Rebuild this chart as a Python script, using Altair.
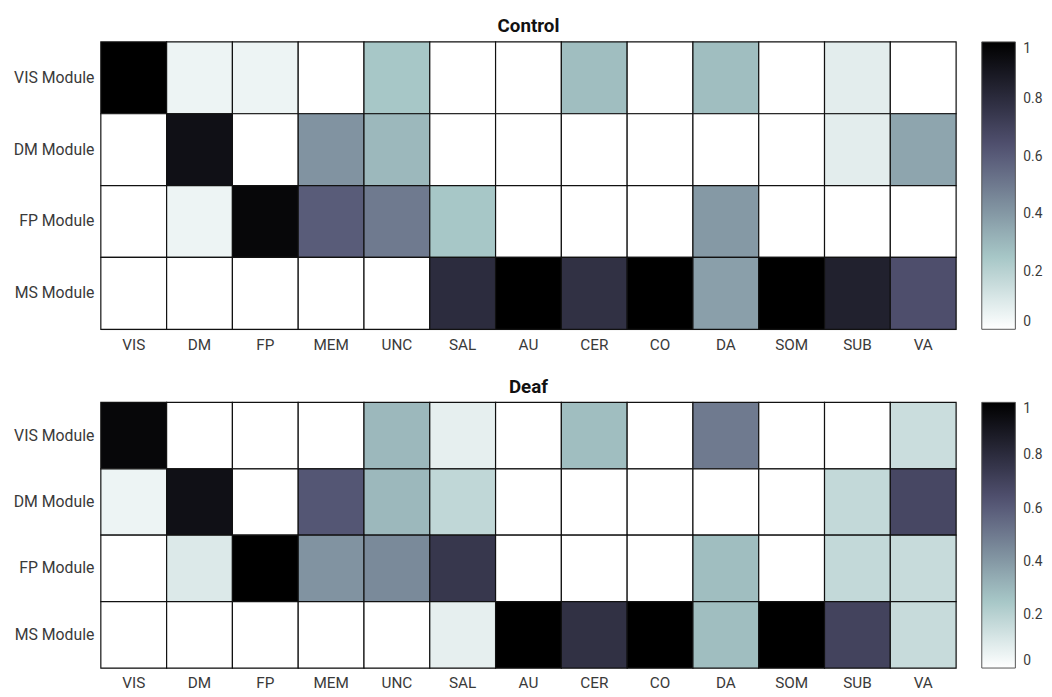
import altair as alt
import pandas as pd

modules = ["VIS Module", "DM Module", "FP Module", "MS Module"]
networks = ["VIS", "DM", "FP", "MEM", "UNC", "SAL", "AU", "CER", "CO", "DA", "SOM", "SUB", "VA"]

control_vis = [1.00, 0.05, 0.05, 0.00, 0.25, 0.00, 0.00, 0.28, 0.00, 0.28, 0.00, 0.08, 0.00]
control_dm = [0.00, 0.93, 0.00, 0.42, 0.30, 0.00, 0.00, 0.00, 0.00, 0.00, 0.00, 0.08, 0.36]
control_fp = [0.00, 0.05, 0.97, 0.60, 0.50, 0.25, 0.00, 0.00, 0.00, 0.40, 0.00, 0.00, 0.00]
control_ms = [0.00, 0.00, 0.00, 0.00, 0.00, 0.80, 1.00, 0.78, 1.00, 0.38, 1.00, 0.85, 0.65]

deaf_vis = [0.97, 0.00, 0.00, 0.00, 0.30, 0.07, 0.00, 0.28, 0.00, 0.50, 0.00, 0.00, 0.15]
deaf_dm = [0.05, 0.93, 0.00, 0.62, 0.30, 0.18, 0.00, 0.00, 0.00, 0.00, 0.00, 0.17, 0.68]
deaf_fp = [0.00, 0.10, 1.00, 0.42, 0.45, 0.75, 0.00, 0.00, 0.00, 0.28, 0.00, 0.17, 0.16]
deaf_ms = [0.00, 0.00, 0.00, 0.00, 0.00, 0.07, 1.00, 0.78, 1.00, 0.28, 1.00, 0.70, 0.16]

legend_ticks = [0, 0.2, 0.4, 0.6, 0.8, 1]


def long_frame(rows):
    recs = []
    for m, vals in zip(modules, rows):
        for n, v in zip(networks, vals):
            recs.append({"module": m, "network": n, "value": v})
    return pd.DataFrame(recs)


control_df = long_frame([control_vis, control_dm, control_fp, control_ms])
deaf_df = long_frame([deaf_vis, deaf_dm, deaf_fp, deaf_ms])

bone_r = alt.Scale(
    domain=[0, 0.254, 0.635, 1],
    range=["#ffffff", "#a6c6c6", "#515171", "#000000"],
    interpolate="rgb",
)

FONT = "Roboto"


def panel(df, title, h):
    return (
        alt.Chart(df, title=alt.TitleParams(title, fontSize=19, fontWeight="bold", font=FONT,
                                            color="#111111", offset=5))
        .mark_rect(stroke="#111111", strokeWidth=1.2)
        .encode(
            x=alt.X("network:N", sort=networks,
                    axis=alt.Axis(title=None, labelAngle=0, ticks=False, domain=False,
                                  labelPadding=8, labelFontSize=15.5, labelFont=FONT,
                                  labelColor="#3a3a3a")),
            y=alt.Y("module:N", sort=modules,
                    axis=alt.Axis(title=None, ticks=False, domain=False, labelPadding=7,
                                  labelFontSize=16, labelFont=FONT, labelColor="#3a3a3a")),
            color=alt.Color("value:Q", scale=bone_r,
                            legend=alt.Legend(title=None, values=legend_ticks, format="~g",
                                              gradientLength=h, gradientThickness=34,
                                              gradientStrokeColor="#555555",
                                              gradientStrokeWidth=1,
                                              labelFontSize=14, labelFont=FONT,
                                              labelColor="#3a3a3a", offset=26,
                                              labelOffset=8)),
        )
        .properties(width=866, height=h)
    )


chart = (
    alt.vconcat(panel(control_df, "Control", 291), panel(deaf_df, "Deaf", 269), spacing=24,
                padding={"left": 4, "top": 4, "right": 0, "bottom": 0})
    .resolve_scale(color="independent")
    .configure_view(stroke="#111111", strokeWidth=1.2)
    .configure(background="white")
)

chart.save("out.html", embed_options={"renderer": "svg", "actions": False})
